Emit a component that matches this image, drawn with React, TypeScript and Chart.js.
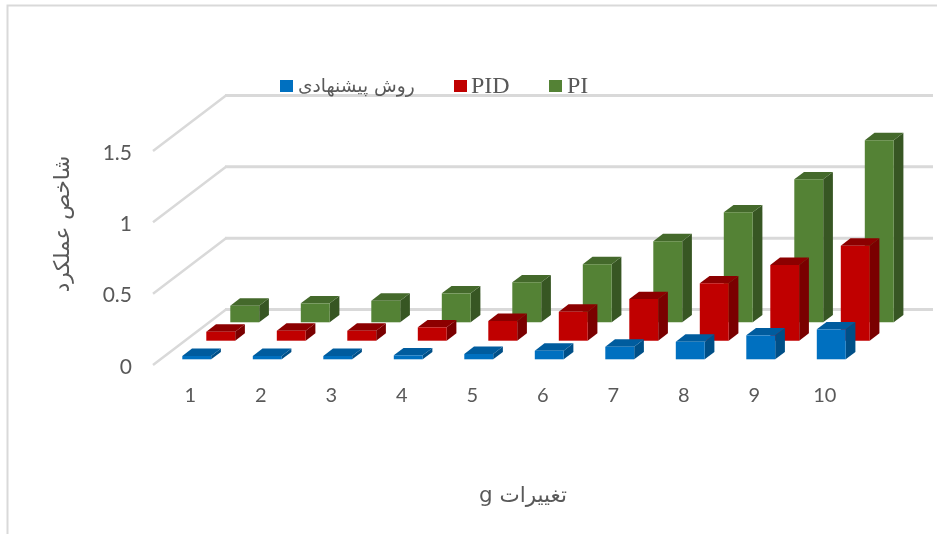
import React, { useEffect, useRef } from "react";
import { Chart, registerables } from "chart.js";

Chart.register(...registerables);

const categories = ["1", "2", "3", "4", "5", "6", "7", "8", "9", "10"];
const proposedValues = [0.023, 0.023, 0.023, 0.028, 0.037, 0.06, 0.088, 0.123, 0.168, 0.21];
const pidValues = [0.063, 0.07, 0.07, 0.094, 0.138, 0.203, 0.292, 0.402, 0.531, 0.666];
const piValues = [0.116, 0.133, 0.151, 0.203, 0.28, 0.407, 0.568, 0.771, 1.002, 1.276];
const seriesNames = ["روش پیشنهادی", "PID", "PI"];
const xTitle = "تغییرات g";
const yTitle = "شاخص عملکرد";

const TICK_COLOR = "#595959";
const GRID_COLOR = "#d9d9d9";
const ARABIC_FONT = '"DejaVu Sans", sans-serif';

const front = ["#0070c0", "#c00000", "#548235"];
const topFace = ["#005c9e", "#8c0000", "#44692b"];
const sideFace = ["#004f87", "#7a0000", "#375623"];
const rowShift = [
  { x: 6.5, y: -5.7 },
  { x: 30.5, y: -24.3 },
  { x: 54.5, y: -42.7 },
];
const DEPTH = { x: 9.7, y: -7.4 };
const WALL = { x: 73, y: -55.5 };
const WALL_RIGHT = 933;
const legendLayout = [
  { box: 280, text: 298, size: 18.6, font: ARABIC_FONT },
  { box: 454, text: 471, size: 24, font: '"Liberation Serif", serif' },
  { box: 549, text: 567, size: 24, font: '"Liberation Serif", serif' },
];

const bars3d = {
  id: "bars3d",
  beforeDraw(chart: any) {
    const { ctx } = chart;
    ctx.save();
    ctx.strokeStyle = GRID_COLOR;
    ctx.lineWidth = 2;
    ctx.beginPath();
    ctx.moveTo(7.5, 534);
    ctx.lineTo(7.5, 5.5);
    ctx.lineTo(937, 5.5);
    ctx.stroke();
    ctx.restore();
  },
  beforeDatasetsDraw(chart: any) {
    const { ctx, scales, chartArea } = chart;
    ctx.save();
    ctx.strokeStyle = GRID_COLOR;
    ctx.lineCap = "butt";
    ctx.lineJoin = "round";
    scales.y.ticks.forEach((t: any) => {
      const y = scales.y.getPixelForValue(t.value);
      const x0 = chartArea.left - 2;
      const bx = x0 + WALL.x;
      const by = y + WALL.y;
      ctx.lineWidth = 2.5;
      ctx.beginPath();
      ctx.moveTo(x0, y);
      ctx.lineTo(bx, by);
      ctx.stroke();
      ctx.lineWidth = 3;
      ctx.beginPath();
      ctx.moveTo(bx - 1, by);
      ctx.lineTo(WALL_RIGHT, by);
      ctx.stroke();
    });
    ctx.restore();
    // legend sits over the wall
    ctx.save();
    ctx.textBaseline = "middle";
    ctx.textAlign = "left";
    seriesNames.forEach((name, i) => {
      const l = legendLayout[i];
      ctx.fillStyle = front[i];
      ctx.fillRect(l.box, 80, 13, 12);
      ctx.fillStyle = TICK_COLOR;
      ctx.font = `${l.size}px ${l.font}`;
      ctx.fillText(name, l.text, 87);
    });
    ctx.restore();
  },
  beforeDatasetDraw(chart: any, args: any) {
    const { ctx } = chart;
    const i = args.index;
    const s = rowShift[i];
    ctx.save();
    ctx.translate(s.x, s.y);
    chart.getDatasetMeta(i).data.forEach((bar: any) => {
      const { x, y, base, width } = bar.getProps(["x", "y", "base", "width"], true);
      const l = x - width / 2;
      const r = x + width / 2;
      ctx.fillStyle = sideFace[i];
      ctx.beginPath();
      ctx.moveTo(r, y);
      ctx.lineTo(r + DEPTH.x, y + DEPTH.y);
      ctx.lineTo(r + DEPTH.x, base + DEPTH.y);
      ctx.lineTo(r, base);
      ctx.closePath();
      ctx.fill();
      ctx.fillStyle = topFace[i];
      ctx.beginPath();
      ctx.moveTo(l, y);
      ctx.lineTo(l + DEPTH.x, y + DEPTH.y);
      ctx.lineTo(r + DEPTH.x, y + DEPTH.y);
      ctx.lineTo(r, y);
      ctx.closePath();
      ctx.fill();
    });
  },
  afterDatasetDraw(chart: any) {
    chart.ctx.restore();
  },
  afterDraw(chart: any) {
    const { ctx } = chart;
    ctx.save();
    ctx.fillStyle = TICK_COLOR;
    ctx.direction = "rtl";
    ctx.textAlign = "center";
    ctx.textBaseline = "middle";
    ctx.font = `21.5px ${ARABIC_FONT}`;
    ctx.fillText(xTitle, 523, 496);
    ctx.translate(63, 224);
    ctx.rotate(-Math.PI / 2);
    ctx.fillText(yTitle, 0, 0);
    ctx.restore();
  },
};

export default function App() {
  const ref = useRef<HTMLCanvasElement>(null);
  useEffect(() => {
    const chart = new Chart(ref.current as HTMLCanvasElement, {
      type: "bar",
      data: {
        labels: categories,
        datasets: [proposedValues, pidValues, piValues].map((data, i) => ({
          label: seriesNames[i],
          data,
          backgroundColor: front[i],
          borderWidth: 0,
          grouped: false,
          barPercentage: 0.41,
          categoryPercentage: 1,
          clip: false,
        })),
      },
      options: {
        animation: false,
        responsive: false,
        devicePixelRatio: 1,
        layout: { padding: { left: 0, top: 151, right: 77, bottom: 0 } },
        plugins: { legend: { display: false }, title: { display: false }, tooltip: { enabled: false } },
        scales: {
          x: {
            grid: { display: false, drawTicks: false },
            border: { display: false },
            ticks: { color: TICK_COLOR, font: { family: "Lato", size: 20 }, padding: 19, maxRotation: 0 },
            afterFit: (s: any) => { s.height = 169; },
          },
          y: {
            min: 0,
            max: 1.5,
            grid: { display: false, drawTicks: false },
            border: { display: false },
            ticks: {
              stepSize: 0.5,
              color: TICK_COLOR,
              font: { family: "Lato", size: 21 },
              padding: 23,
              labelOffset: 2,
              callback: (v: any) => String(v),
            },
            afterFit: (s: any) => { s.width = 155; },
          },
        },
      } as any,
      plugins: [bars3d],
    });
    return () => chart.destroy();
  }, []);
  return (
    <div style={{ position: "absolute", left: 0, top: 0, width: 937, height: 534 }}>
      <canvas ref={ref} width={937} height={534} style={{ display: "block" }} />
    </div>
  );
}
